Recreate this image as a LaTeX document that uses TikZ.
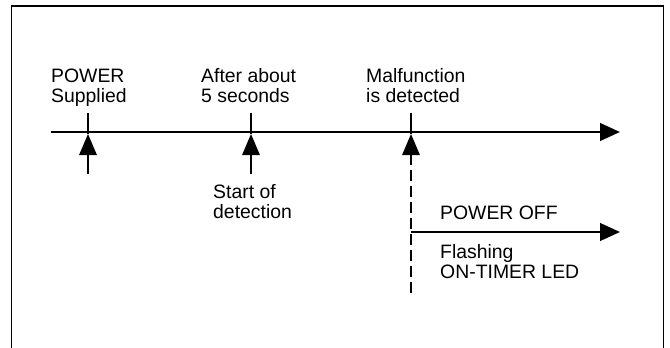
\documentclass[tikz,border=0pt]{standalone}
\usepackage{fontspec}
\setmainfont{Liberation Sans}
\usetikzlibrary{arrows.meta}
\tikzset{
  x=1pt,y=-1pt,
  lab/.style={anchor=base west,inner sep=0pt,align=left,font=\fontsize{19.4pt}{20pt}\selectfont},
  frameline/.style={line width=1.8pt,black},
  axisline/.style={line width=2.8pt,black,-{Triangle[length=20pt,width=17.5pt,sep=0pt]}},
  tickline/.style={line width=1.5pt,black},
  uparrow/.style={line width=1.5pt,black,-{Triangle[length=21pt,width=17.5pt]}},
  dashline/.style={line width=1.5pt,black,dash pattern=on 11pt off 5pt,-{Triangle[length=21pt,width=17.5pt]}}
}
\begin{document}
\begin{tikzpicture}
\useasboundingbox (0,0) rectangle (670,348);
\coordinate (fbl) at (11.5,349);
\coordinate (ftl) at (11.5,6);
\coordinate (ftr) at (663.5,6);
\coordinate (fbr) at (663.5,349);
\draw[frameline] (fbl) -- (ftl) -- (ftr) -- (fbr);
\coordinate (axL) at (51,132);
\coordinate (axR) at (620,132);
\draw[axisline] (axL) -- (axR);
\coordinate (t1) at (88,113);
\coordinate (t1a) at (88,134);
\coordinate (t1b) at (88,174);
\coordinate (t2) at (251,113);
\coordinate (t2a) at (251,134);
\coordinate (t2b) at (251,174);
\coordinate (t3) at (411,113);
\coordinate (t3a) at (411,134);
\coordinate (t3b) at (411,293);
\draw[tickline] (t1) -- (t1a);
\draw[tickline] (t2) -- (t2a);
\draw[tickline] (t3) -- (t3a);
\draw[uparrow] (t1b) -- (t1a);
\draw[uparrow] (t2b) -- (t2a);
\draw[dashline] (t3b) -- (t3a);
\coordinate (pL) at (411,232);
\coordinate (pR) at (620,232);
\draw[axisline] (pL) -- (pR);
\node[lab] (n1) at (51,82.5) {POWER};
\node[lab] (n1b) at (51,102.5) {Supplied};
\node[lab] (n2) at (201,82.5) {After about};
\node[lab] (n2b) at (201,102.5) {5 seconds};
\node[lab] (n3) at (366,82.5) {Malfunction};
\node[lab] (n3b) at (366,102.5) {is detected};
\node[lab] (n4) at (213,198.5) {Start of};
\node[lab] (n4b) at (213,218.5) {detection};
\node[lab] (n5) at (440,219) {POWER OFF};
\node[lab] (n6) at (440,258.5) {Flashing};
\node[lab] (n6b) at (440,278.5) {ON-TIMER LED};
\end{tikzpicture}
\end{document}
